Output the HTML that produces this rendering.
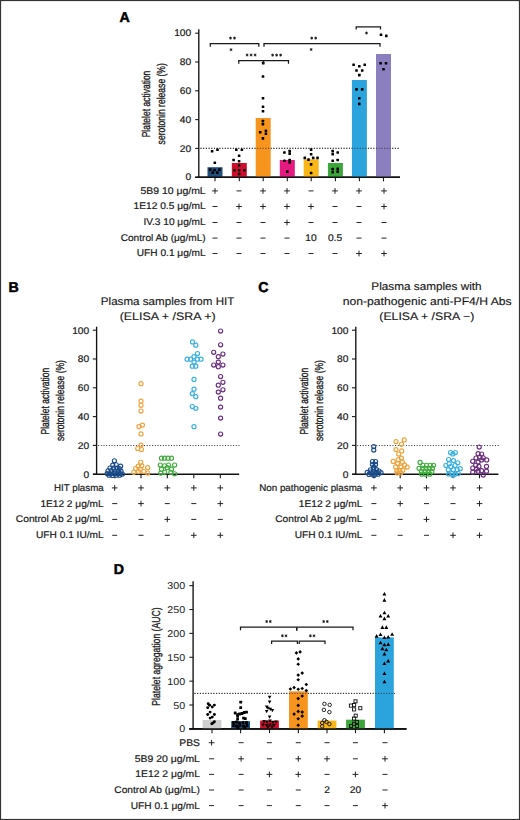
<!DOCTYPE html>
<html><head><meta charset="utf-8"><style>
html,body{margin:0;padding:0;background:#fff;}
svg{display:block;font-family:"Liberation Sans", sans-serif;text-rendering:geometricPrecision;}
</style></head><body>
<svg width="520" height="820" viewBox="0 0 520 820">
<rect x="0" y="0" width="520" height="820" fill="#fff"/>
<text x="119.6" y="21.6" font-size="14.2" text-anchor="start" font-weight="bold" fill="#000" stroke="#000" stroke-width="0.5">A</text>
<line x1="198.8" y1="29.3" x2="198.8" y2="177.8" stroke="#111" stroke-width="1.35" />
<line x1="198.2" y1="177.2" x2="400" y2="177.2" stroke="#1a1a1a" stroke-width="1.3" />
<line x1="195.2" y1="177.2" x2="198.8" y2="177.2" stroke="#1a1a1a" stroke-width="1.1" />
<text x="191.2" y="180.35" font-size="9.7" text-anchor="end" font-weight="normal" fill="#1a1a1a" textLength="5.66" lengthAdjust="spacingAndGlyphs" stroke="#1a1a1a" stroke-width="0.2">0</text>
<line x1="195.2" y1="148.39999999999998" x2="198.8" y2="148.39999999999998" stroke="#1a1a1a" stroke-width="1.1" />
<text x="191.2" y="151.54999999999998" font-size="9.7" text-anchor="end" font-weight="normal" fill="#1a1a1a" textLength="11.33" lengthAdjust="spacingAndGlyphs" stroke="#1a1a1a" stroke-width="0.2">20</text>
<line x1="195.2" y1="119.6" x2="198.8" y2="119.6" stroke="#1a1a1a" stroke-width="1.1" />
<text x="191.2" y="122.75" font-size="9.7" text-anchor="end" font-weight="normal" fill="#1a1a1a" textLength="11.33" lengthAdjust="spacingAndGlyphs" stroke="#1a1a1a" stroke-width="0.2">40</text>
<line x1="195.2" y1="90.79999999999998" x2="198.8" y2="90.79999999999998" stroke="#1a1a1a" stroke-width="1.1" />
<text x="191.2" y="93.94999999999999" font-size="9.7" text-anchor="end" font-weight="normal" fill="#1a1a1a" textLength="11.33" lengthAdjust="spacingAndGlyphs" stroke="#1a1a1a" stroke-width="0.2">60</text>
<line x1="195.2" y1="61.999999999999986" x2="198.8" y2="61.999999999999986" stroke="#1a1a1a" stroke-width="1.1" />
<text x="191.2" y="65.14999999999999" font-size="9.7" text-anchor="end" font-weight="normal" fill="#1a1a1a" textLength="11.33" lengthAdjust="spacingAndGlyphs" stroke="#1a1a1a" stroke-width="0.2">80</text>
<line x1="195.2" y1="33.19999999999999" x2="198.8" y2="33.19999999999999" stroke="#1a1a1a" stroke-width="1.1" />
<text x="191.2" y="36.34999999999999" font-size="9.7" text-anchor="end" font-weight="normal" fill="#1a1a1a" textLength="16.99" lengthAdjust="spacingAndGlyphs" stroke="#1a1a1a" stroke-width="0.2">100</text>
<line x1="200.5" y1="148.3" x2="399" y2="148.3" stroke="#333" stroke-width="1" stroke-dasharray="1 1.7"/>
<rect x="207.5" y="167.2" width="15" height="10.0" fill="#1d4f7c"/>
<line x1="215" y1="177.2" x2="215" y2="181.3" stroke="#1a1a1a" stroke-width="1.1" />
<rect x="231.8" y="163.0" width="15" height="14.199999999999989" fill="#cf0e2e"/>
<line x1="239.3" y1="177.2" x2="239.3" y2="181.3" stroke="#1a1a1a" stroke-width="1.1" />
<rect x="255.7" y="118.0" width="15" height="59.19999999999999" fill="#f7941d"/>
<line x1="263.2" y1="177.2" x2="263.2" y2="181.3" stroke="#1a1a1a" stroke-width="1.1" />
<rect x="279.8" y="160.0" width="15" height="17.19999999999999" fill="#e5197f"/>
<line x1="287.3" y1="177.2" x2="287.3" y2="181.3" stroke="#1a1a1a" stroke-width="1.1" />
<rect x="303.7" y="159.3" width="15" height="17.899999999999977" fill="#f8b617"/>
<line x1="311.2" y1="177.2" x2="311.2" y2="181.3" stroke="#1a1a1a" stroke-width="1.1" />
<rect x="327.9" y="163.0" width="15" height="14.199999999999989" fill="#3ba639"/>
<line x1="335.4" y1="177.2" x2="335.4" y2="181.3" stroke="#1a1a1a" stroke-width="1.1" />
<rect x="351.9" y="80.0" width="15" height="97.19999999999999" fill="#2ba4dd"/>
<line x1="359.4" y1="177.2" x2="359.4" y2="181.3" stroke="#1a1a1a" stroke-width="1.1" />
<rect x="376.0" y="54.0" width="15" height="123.19999999999999" fill="#8b7fc0"/>
<line x1="383.5" y1="177.2" x2="383.5" y2="181.3" stroke="#1a1a1a" stroke-width="1.1" />
<line x1="200.5" y1="148.3" x2="399" y2="148.3" stroke="#333" stroke-width="1" stroke-dasharray="1 1.7"/>
<line x1="195.2" y1="177.3" x2="400" y2="177.3" stroke="#111" stroke-width="1.5" />
<rect x="210.80" y="150.00" width="2.6" height="2.6" rx="0.5" fill="#000"/>
<rect x="216.20" y="148.50" width="2.6" height="2.6" rx="0.5" fill="#000"/>
<rect x="213.50" y="161.50" width="2.6" height="2.6" rx="0.5" fill="#000"/>
<rect x="208.90" y="168.30" width="2.6" height="2.6" rx="0.5" fill="#000"/>
<rect x="213.30" y="168.70" width="2.6" height="2.6" rx="0.5" fill="#000"/>
<rect x="218.20" y="168.30" width="2.6" height="2.6" rx="0.5" fill="#000"/>
<rect x="211.50" y="171.30" width="2.6" height="2.6" rx="0.5" fill="#000"/>
<rect x="216.00" y="171.30" width="2.6" height="2.6" rx="0.5" fill="#000"/>
<rect x="235.00" y="148.50" width="2.6" height="2.6" rx="0.5" fill="#000"/>
<rect x="240.60" y="148.50" width="2.6" height="2.6" rx="0.5" fill="#000"/>
<rect x="237.80" y="154.40" width="2.6" height="2.6" rx="0.5" fill="#000"/>
<rect x="232.30" y="158.70" width="2.6" height="2.6" rx="0.5" fill="#000"/>
<rect x="237.80" y="159.90" width="2.6" height="2.6" rx="0.5" fill="#000"/>
<rect x="237.80" y="164.20" width="2.6" height="2.6" rx="0.5" fill="#000"/>
<rect x="233.10" y="169.00" width="2.6" height="2.6" rx="0.5" fill="#000"/>
<rect x="237.80" y="169.00" width="2.6" height="2.6" rx="0.5" fill="#000"/>
<rect x="243.00" y="169.00" width="2.6" height="2.6" rx="0.5" fill="#000"/>
<rect x="237.80" y="172.70" width="2.6" height="2.6" rx="0.5" fill="#000"/>
<rect x="261.90" y="61.80" width="2.6" height="2.6" rx="0.5" fill="#000"/>
<rect x="261.70" y="75.20" width="2.6" height="2.6" rx="0.5" fill="#000"/>
<rect x="261.70" y="96.90" width="2.6" height="2.6" rx="0.5" fill="#000"/>
<rect x="261.70" y="105.40" width="2.6" height="2.6" rx="0.5" fill="#000"/>
<rect x="261.70" y="109.90" width="2.6" height="2.6" rx="0.5" fill="#000"/>
<rect x="261.60" y="119.70" width="2.6" height="2.6" rx="0.5" fill="#000"/>
<rect x="261.60" y="122.80" width="2.6" height="2.6" rx="0.5" fill="#000"/>
<rect x="258.90" y="131.00" width="2.6" height="2.6" rx="0.5" fill="#000"/>
<rect x="264.60" y="129.60" width="2.6" height="2.6" rx="0.5" fill="#000"/>
<rect x="264.60" y="132.40" width="2.6" height="2.6" rx="0.5" fill="#000"/>
<rect x="261.60" y="137.10" width="2.6" height="2.6" rx="0.5" fill="#000"/>
<rect x="283.10" y="151.20" width="2.6" height="2.6" rx="0.5" fill="#000"/>
<rect x="288.40" y="149.80" width="2.6" height="2.6" rx="0.5" fill="#000"/>
<rect x="288.40" y="152.30" width="2.6" height="2.6" rx="0.5" fill="#000"/>
<rect x="283.10" y="159.50" width="2.6" height="2.6" rx="0.5" fill="#000"/>
<rect x="288.40" y="158.70" width="2.6" height="2.6" rx="0.5" fill="#000"/>
<rect x="288.40" y="161.10" width="2.6" height="2.6" rx="0.5" fill="#000"/>
<rect x="286.00" y="170.30" width="2.6" height="2.6" rx="0.5" fill="#000"/>
<rect x="309.80" y="148.30" width="2.6" height="2.6" rx="0.5" fill="#000"/>
<rect x="309.80" y="153.00" width="2.6" height="2.6" rx="0.5" fill="#000"/>
<rect x="303.50" y="156.60" width="2.6" height="2.6" rx="0.5" fill="#000"/>
<rect x="307.20" y="158.30" width="2.6" height="2.6" rx="0.5" fill="#000"/>
<rect x="311.90" y="156.60" width="2.6" height="2.6" rx="0.5" fill="#000"/>
<rect x="316.20" y="156.60" width="2.6" height="2.6" rx="0.5" fill="#000"/>
<rect x="309.80" y="163.10" width="2.6" height="2.6" rx="0.5" fill="#000"/>
<rect x="309.80" y="171.70" width="2.6" height="2.6" rx="0.5" fill="#000"/>
<rect x="331.40" y="149.80" width="2.6" height="2.6" rx="0.5" fill="#000"/>
<rect x="331.40" y="153.00" width="2.6" height="2.6" rx="0.5" fill="#000"/>
<rect x="336.40" y="151.20" width="2.6" height="2.6" rx="0.5" fill="#000"/>
<rect x="331.40" y="159.50" width="2.6" height="2.6" rx="0.5" fill="#000"/>
<rect x="336.40" y="158.70" width="2.6" height="2.6" rx="0.5" fill="#000"/>
<rect x="331.40" y="167.80" width="2.6" height="2.6" rx="0.5" fill="#000"/>
<rect x="336.40" y="167.40" width="2.6" height="2.6" rx="0.5" fill="#000"/>
<rect x="331.40" y="171.00" width="2.6" height="2.6" rx="0.5" fill="#000"/>
<rect x="336.40" y="170.30" width="2.6" height="2.6" rx="0.5" fill="#000"/>
<rect x="352.30" y="63.50" width="2.6" height="2.6" rx="0.5" fill="#000"/>
<rect x="358.00" y="64.90" width="2.6" height="2.6" rx="0.5" fill="#000"/>
<rect x="363.40" y="63.50" width="2.6" height="2.6" rx="0.5" fill="#000"/>
<rect x="355.20" y="69.20" width="2.6" height="2.6" rx="0.5" fill="#000"/>
<rect x="360.90" y="69.20" width="2.6" height="2.6" rx="0.5" fill="#000"/>
<rect x="358.00" y="73.80" width="2.6" height="2.6" rx="0.5" fill="#000"/>
<rect x="355.20" y="88.10" width="2.6" height="2.6" rx="0.5" fill="#000"/>
<rect x="360.90" y="88.10" width="2.6" height="2.6" rx="0.5" fill="#000"/>
<rect x="358.00" y="97.00" width="2.6" height="2.6" rx="0.5" fill="#000"/>
<rect x="358.00" y="102.60" width="2.6" height="2.6" rx="0.5" fill="#000"/>
<rect x="379.70" y="33.50" width="2.6" height="2.6" rx="0.5" fill="#000"/>
<rect x="385.00" y="34.60" width="2.6" height="2.6" rx="0.5" fill="#000"/>
<rect x="379.30" y="62.00" width="2.6" height="2.6" rx="0.5" fill="#000"/>
<rect x="384.70" y="62.00" width="2.6" height="2.6" rx="0.5" fill="#000"/>
<rect x="382.20" y="68.00" width="2.6" height="2.6" rx="0.5" fill="#000"/>
<polyline points="210.3,46.800000000000004 210.3,43.6 258.8,43.6 258.8,46.800000000000004" fill="none" stroke="#1a1a1a" stroke-width="1.25"/>
<polyline points="264,46.800000000000004 264,43.6 380,43.6 380,46.800000000000004" fill="none" stroke="#1a1a1a" stroke-width="1.25"/>
<polyline points="238.8,63.800000000000004 238.8,60.6 288.5,60.6 288.5,63.800000000000004" fill="none" stroke="#1a1a1a" stroke-width="1.25"/>
<line x1="263.5" y1="60.6" x2="263.5" y2="63.8" stroke="#1a1a1a" stroke-width="1.1" />
<polyline points="356.2,29.6 356.2,26.8 380.5,26.8 380.5,29.6" fill="none" stroke="#1a1a1a" stroke-width="1.25"/>
<path d="M230.50,36.65L230.50,39.55M229.24,37.38L231.76,38.83M231.76,37.38L229.24,38.83" stroke="#111" stroke-width="0.85" fill="none"/>
<path d="M234.50,36.65L234.50,39.55M233.24,37.38L235.76,38.83M235.76,37.38L233.24,38.83" stroke="#111" stroke-width="0.85" fill="none"/>
<path d="M231.00,48.25L231.00,51.15M229.74,48.98L232.26,50.43M232.26,48.98L229.74,50.43" stroke="#111" stroke-width="0.85" fill="none"/>
<path d="M311.70,36.65L311.70,39.55M310.44,37.38L312.96,38.83M312.96,37.38L310.44,38.83" stroke="#111" stroke-width="0.85" fill="none"/>
<path d="M315.70,36.65L315.70,39.55M314.44,37.38L316.96,38.83M316.96,37.38L314.44,38.83" stroke="#111" stroke-width="0.85" fill="none"/>
<path d="M311.10,48.05L311.10,50.95M309.84,48.77L312.36,50.23M312.36,48.77L309.84,50.23" stroke="#111" stroke-width="0.85" fill="none"/>
<path d="M247.10,53.55L247.10,56.45M245.84,54.27L248.36,55.73M248.36,54.27L245.84,55.73" stroke="#111" stroke-width="0.85" fill="none"/>
<path d="M251.10,53.55L251.10,56.45M249.84,54.27L252.36,55.73M252.36,54.27L249.84,55.73" stroke="#111" stroke-width="0.85" fill="none"/>
<path d="M255.10,53.55L255.10,56.45M253.84,54.27L256.36,55.73M256.36,54.27L253.84,55.73" stroke="#111" stroke-width="0.85" fill="none"/>
<path d="M272.60,53.65L272.60,56.55M271.34,54.38L273.86,55.83M273.86,54.38L271.34,55.83" stroke="#111" stroke-width="0.85" fill="none"/>
<path d="M276.60,53.65L276.60,56.55M275.34,54.38L277.86,55.83M277.86,54.38L275.34,55.83" stroke="#111" stroke-width="0.85" fill="none"/>
<path d="M280.60,53.65L280.60,56.55M279.34,54.38L281.86,55.83M281.86,54.38L279.34,55.83" stroke="#111" stroke-width="0.85" fill="none"/>
<path d="M366.50,31.55L366.50,34.45M365.24,32.27L367.76,33.73M367.76,32.27L365.24,33.73" stroke="#111" stroke-width="0.85" fill="none"/>
<text transform="translate(150.2,104.0) rotate(-90)" x="0" y="0" font-size="11.5" text-anchor="middle" fill="#1a1a1a" stroke="#1a1a1a" stroke-width="0.3" textLength="66.7" lengthAdjust="spacingAndGlyphs">Platelet activation</text>
<text transform="translate(164.8,103.8) rotate(-90)" x="0" y="0" font-size="11.5" text-anchor="middle" fill="#1a1a1a" stroke="#1a1a1a" stroke-width="0.3" textLength="81.2" lengthAdjust="spacingAndGlyphs">serotonin release (%)</text>
<text x="205.7" y="193.8" font-size="9.7" text-anchor="end" font-weight="normal" fill="#1a1a1a" textLength="65.3" lengthAdjust="spacingAndGlyphs" stroke="#1a1a1a" stroke-width="0.2">5B9 10 μg/mL</text>
<text x="205.7" y="209.4" font-size="9.7" text-anchor="end" font-weight="normal" fill="#1a1a1a" textLength="72.2" lengthAdjust="spacingAndGlyphs" stroke="#1a1a1a" stroke-width="0.2">1E12 0.5 μg/mL</text>
<text x="205.7" y="225.4" font-size="9.7" text-anchor="end" font-weight="normal" fill="#1a1a1a" textLength="62.3" lengthAdjust="spacingAndGlyphs" stroke="#1a1a1a" stroke-width="0.2">IV.3 10 μg/mL</text>
<text x="205.7" y="241.0" font-size="9.7" text-anchor="end" font-weight="normal" fill="#1a1a1a" textLength="85" lengthAdjust="spacingAndGlyphs" stroke="#1a1a1a" stroke-width="0.2">Control Ab (μg/mL)</text>
<text x="205.7" y="256.4" font-size="9.7" text-anchor="end" font-weight="normal" fill="#1a1a1a" textLength="68.9" lengthAdjust="spacingAndGlyphs" stroke="#1a1a1a" stroke-width="0.2">UFH 0.1 μg/mL</text>
<line x1="212.15" y1="190.9" x2="217.85" y2="190.9" stroke="#1a1a1a" stroke-width="0.95" />
<line x1="215" y1="188.05" x2="215" y2="193.75" stroke="#1a1a1a" stroke-width="0.95" />
<line x1="236.5" y1="190.9" x2="241.5" y2="190.9" stroke="#1a1a1a" stroke-width="0.95" />
<line x1="260.15" y1="190.9" x2="265.85" y2="190.9" stroke="#1a1a1a" stroke-width="0.95" />
<line x1="263" y1="188.05" x2="263" y2="193.75" stroke="#1a1a1a" stroke-width="0.95" />
<line x1="284.15" y1="190.9" x2="289.85" y2="190.9" stroke="#1a1a1a" stroke-width="0.95" />
<line x1="287" y1="188.05" x2="287" y2="193.75" stroke="#1a1a1a" stroke-width="0.95" />
<line x1="308.5" y1="190.9" x2="313.5" y2="190.9" stroke="#1a1a1a" stroke-width="0.95" />
<line x1="332.15" y1="190.9" x2="337.85" y2="190.9" stroke="#1a1a1a" stroke-width="0.95" />
<line x1="335" y1="188.05" x2="335" y2="193.75" stroke="#1a1a1a" stroke-width="0.95" />
<line x1="356.15" y1="190.9" x2="361.85" y2="190.9" stroke="#1a1a1a" stroke-width="0.95" />
<line x1="359" y1="188.05" x2="359" y2="193.75" stroke="#1a1a1a" stroke-width="0.95" />
<line x1="381.15" y1="190.9" x2="386.85" y2="190.9" stroke="#1a1a1a" stroke-width="0.95" />
<line x1="384" y1="188.05" x2="384" y2="193.75" stroke="#1a1a1a" stroke-width="0.95" />
<line x1="212.5" y1="206.5" x2="217.5" y2="206.5" stroke="#1a1a1a" stroke-width="0.95" />
<line x1="236.15" y1="206.5" x2="241.85" y2="206.5" stroke="#1a1a1a" stroke-width="0.95" />
<line x1="239" y1="203.65" x2="239" y2="209.35" stroke="#1a1a1a" stroke-width="0.95" />
<line x1="260.15" y1="206.5" x2="265.85" y2="206.5" stroke="#1a1a1a" stroke-width="0.95" />
<line x1="263" y1="203.65" x2="263" y2="209.35" stroke="#1a1a1a" stroke-width="0.95" />
<line x1="284.15" y1="206.5" x2="289.85" y2="206.5" stroke="#1a1a1a" stroke-width="0.95" />
<line x1="287" y1="203.65" x2="287" y2="209.35" stroke="#1a1a1a" stroke-width="0.95" />
<line x1="308.15" y1="206.5" x2="313.85" y2="206.5" stroke="#1a1a1a" stroke-width="0.95" />
<line x1="311" y1="203.65" x2="311" y2="209.35" stroke="#1a1a1a" stroke-width="0.95" />
<line x1="332.5" y1="206.5" x2="337.5" y2="206.5" stroke="#1a1a1a" stroke-width="0.95" />
<line x1="356.5" y1="206.5" x2="361.5" y2="206.5" stroke="#1a1a1a" stroke-width="0.95" />
<line x1="381.15" y1="206.5" x2="386.85" y2="206.5" stroke="#1a1a1a" stroke-width="0.95" />
<line x1="384" y1="203.65" x2="384" y2="209.35" stroke="#1a1a1a" stroke-width="0.95" />
<line x1="212.5" y1="222.5" x2="217.5" y2="222.5" stroke="#1a1a1a" stroke-width="0.95" />
<line x1="236.5" y1="222.5" x2="241.5" y2="222.5" stroke="#1a1a1a" stroke-width="0.95" />
<line x1="260.5" y1="222.5" x2="265.5" y2="222.5" stroke="#1a1a1a" stroke-width="0.95" />
<line x1="284.15" y1="222.5" x2="289.85" y2="222.5" stroke="#1a1a1a" stroke-width="0.95" />
<line x1="287" y1="219.65" x2="287" y2="225.35" stroke="#1a1a1a" stroke-width="0.95" />
<line x1="308.5" y1="222.5" x2="313.5" y2="222.5" stroke="#1a1a1a" stroke-width="0.95" />
<line x1="332.5" y1="222.5" x2="337.5" y2="222.5" stroke="#1a1a1a" stroke-width="0.95" />
<line x1="356.5" y1="222.5" x2="361.5" y2="222.5" stroke="#1a1a1a" stroke-width="0.95" />
<line x1="381.5" y1="222.5" x2="386.5" y2="222.5" stroke="#1a1a1a" stroke-width="0.95" />
<line x1="212.5" y1="238.1" x2="217.5" y2="238.1" stroke="#1a1a1a" stroke-width="0.95" />
<line x1="236.5" y1="238.1" x2="241.5" y2="238.1" stroke="#1a1a1a" stroke-width="0.95" />
<line x1="260.5" y1="238.1" x2="265.5" y2="238.1" stroke="#1a1a1a" stroke-width="0.95" />
<line x1="284.5" y1="238.1" x2="289.5" y2="238.1" stroke="#1a1a1a" stroke-width="0.95" />
<text x="311" y="241.0" font-size="9.7" text-anchor="middle" font-weight="normal" fill="#1a1a1a" textLength="11.33" lengthAdjust="spacingAndGlyphs" stroke="#1a1a1a" stroke-width="0.2">10</text>
<text x="335" y="241.0" font-size="9.7" text-anchor="middle" font-weight="normal" fill="#1a1a1a" textLength="14.16" lengthAdjust="spacingAndGlyphs" stroke="#1a1a1a" stroke-width="0.2">0.5</text>
<line x1="356.5" y1="238.1" x2="361.5" y2="238.1" stroke="#1a1a1a" stroke-width="0.95" />
<line x1="381.5" y1="238.1" x2="386.5" y2="238.1" stroke="#1a1a1a" stroke-width="0.95" />
<line x1="212.5" y1="253.49999999999997" x2="217.5" y2="253.49999999999997" stroke="#1a1a1a" stroke-width="0.95" />
<line x1="236.5" y1="253.49999999999997" x2="241.5" y2="253.49999999999997" stroke="#1a1a1a" stroke-width="0.95" />
<line x1="260.5" y1="253.49999999999997" x2="265.5" y2="253.49999999999997" stroke="#1a1a1a" stroke-width="0.95" />
<line x1="284.5" y1="253.49999999999997" x2="289.5" y2="253.49999999999997" stroke="#1a1a1a" stroke-width="0.95" />
<line x1="308.5" y1="253.49999999999997" x2="313.5" y2="253.49999999999997" stroke="#1a1a1a" stroke-width="0.95" />
<line x1="332.5" y1="253.49999999999997" x2="337.5" y2="253.49999999999997" stroke="#1a1a1a" stroke-width="0.95" />
<line x1="356.15" y1="253.49999999999997" x2="361.85" y2="253.49999999999997" stroke="#1a1a1a" stroke-width="0.95" />
<line x1="359" y1="250.64999999999998" x2="359" y2="256.34999999999997" stroke="#1a1a1a" stroke-width="0.95" />
<line x1="381.15" y1="253.49999999999997" x2="386.85" y2="253.49999999999997" stroke="#1a1a1a" stroke-width="0.95" />
<line x1="384" y1="250.64999999999998" x2="384" y2="256.34999999999997" stroke="#1a1a1a" stroke-width="0.95" />
<line x1="96.6" y1="326.7" x2="96.6" y2="474.8" stroke="#111" stroke-width="1.35" />
<line x1="93.0" y1="474.3" x2="239.2" y2="474.3" stroke="#111" stroke-width="1.5" />
<line x1="92.8" y1="474.2" x2="96.6" y2="474.2" stroke="#1a1a1a" stroke-width="1.1" />
<text x="89.19999999999999" y="477.5" font-size="9.7" text-anchor="end" font-weight="normal" fill="#1a1a1a" textLength="5.66" lengthAdjust="spacingAndGlyphs" stroke="#1a1a1a" stroke-width="0.2">0</text>
<line x1="92.8" y1="445.4" x2="96.6" y2="445.4" stroke="#1a1a1a" stroke-width="1.1" />
<text x="89.19999999999999" y="448.7" font-size="9.7" text-anchor="end" font-weight="normal" fill="#1a1a1a" textLength="11.33" lengthAdjust="spacingAndGlyphs" stroke="#1a1a1a" stroke-width="0.2">20</text>
<line x1="92.8" y1="416.59999999999997" x2="96.6" y2="416.59999999999997" stroke="#1a1a1a" stroke-width="1.1" />
<text x="89.19999999999999" y="419.9" font-size="9.7" text-anchor="end" font-weight="normal" fill="#1a1a1a" textLength="11.33" lengthAdjust="spacingAndGlyphs" stroke="#1a1a1a" stroke-width="0.2">40</text>
<line x1="92.8" y1="387.79999999999995" x2="96.6" y2="387.79999999999995" stroke="#1a1a1a" stroke-width="1.1" />
<text x="89.19999999999999" y="391.09999999999997" font-size="9.7" text-anchor="end" font-weight="normal" fill="#1a1a1a" textLength="11.33" lengthAdjust="spacingAndGlyphs" stroke="#1a1a1a" stroke-width="0.2">60</text>
<line x1="92.8" y1="359.0" x2="96.6" y2="359.0" stroke="#1a1a1a" stroke-width="1.1" />
<text x="89.19999999999999" y="362.3" font-size="9.7" text-anchor="end" font-weight="normal" fill="#1a1a1a" textLength="11.33" lengthAdjust="spacingAndGlyphs" stroke="#1a1a1a" stroke-width="0.2">80</text>
<line x1="92.8" y1="330.2" x2="96.6" y2="330.2" stroke="#1a1a1a" stroke-width="1.1" />
<text x="89.19999999999999" y="333.5" font-size="9.7" text-anchor="end" font-weight="normal" fill="#1a1a1a" textLength="16.99" lengthAdjust="spacingAndGlyphs" stroke="#1a1a1a" stroke-width="0.2">100</text>
<line x1="98.1" y1="445.5" x2="239.6" y2="445.5" stroke="#333" stroke-width="1" stroke-dasharray="1 1.7"/>
<line x1="114.7" y1="474" x2="114.7" y2="478.3" stroke="#1a1a1a" stroke-width="1.1" />
<line x1="141.0" y1="474" x2="141.0" y2="478.3" stroke="#1a1a1a" stroke-width="1.1" />
<line x1="167.3" y1="474" x2="167.3" y2="478.3" stroke="#1a1a1a" stroke-width="1.1" />
<line x1="193.8" y1="474" x2="193.8" y2="478.3" stroke="#1a1a1a" stroke-width="1.1" />
<line x1="220.3" y1="474" x2="220.3" y2="478.3" stroke="#1a1a1a" stroke-width="1.1" />
<text transform="translate(48.9,401.2) rotate(-90)" x="0" y="0" font-size="11.5" text-anchor="middle" fill="#1a1a1a" stroke="#1a1a1a" stroke-width="0.3" textLength="66.7" lengthAdjust="spacingAndGlyphs">Platelet activation</text>
<text transform="translate(63.8,400.6) rotate(-90)" x="0" y="0" font-size="11.5" text-anchor="middle" fill="#1a1a1a" stroke="#1a1a1a" stroke-width="0.3" textLength="81.0" lengthAdjust="spacingAndGlyphs">serotonin release (%)</text>
<text x="167.6" y="304.6" font-size="11" text-anchor="middle" font-weight="normal" fill="#1a1a1a" textLength="133.5" lengthAdjust="spacingAndGlyphs" stroke="#1a1a1a" stroke-width="0.15">Plasma samples from HIT</text>
<text x="167.7" y="319.5" font-size="11" text-anchor="middle" font-weight="normal" fill="#1a1a1a" textLength="96.0" lengthAdjust="spacingAndGlyphs" stroke="#1a1a1a" stroke-width="0.15">(ELISA + /SRA +)</text>
<line x1="355.79999999999995" y1="326.7" x2="355.79999999999995" y2="474.8" stroke="#111" stroke-width="1.35" />
<line x1="352.19999999999993" y1="474.3" x2="498.4" y2="474.3" stroke="#111" stroke-width="1.5" />
<line x1="351.99999999999994" y1="474.2" x2="355.79999999999995" y2="474.2" stroke="#1a1a1a" stroke-width="1.1" />
<text x="348.4" y="477.5" font-size="9.7" text-anchor="end" font-weight="normal" fill="#1a1a1a" textLength="5.66" lengthAdjust="spacingAndGlyphs" stroke="#1a1a1a" stroke-width="0.2">0</text>
<line x1="351.99999999999994" y1="445.4" x2="355.79999999999995" y2="445.4" stroke="#1a1a1a" stroke-width="1.1" />
<text x="348.4" y="448.7" font-size="9.7" text-anchor="end" font-weight="normal" fill="#1a1a1a" textLength="11.33" lengthAdjust="spacingAndGlyphs" stroke="#1a1a1a" stroke-width="0.2">20</text>
<line x1="351.99999999999994" y1="416.59999999999997" x2="355.79999999999995" y2="416.59999999999997" stroke="#1a1a1a" stroke-width="1.1" />
<text x="348.4" y="419.9" font-size="9.7" text-anchor="end" font-weight="normal" fill="#1a1a1a" textLength="11.33" lengthAdjust="spacingAndGlyphs" stroke="#1a1a1a" stroke-width="0.2">40</text>
<line x1="351.99999999999994" y1="387.79999999999995" x2="355.79999999999995" y2="387.79999999999995" stroke="#1a1a1a" stroke-width="1.1" />
<text x="348.4" y="391.09999999999997" font-size="9.7" text-anchor="end" font-weight="normal" fill="#1a1a1a" textLength="11.33" lengthAdjust="spacingAndGlyphs" stroke="#1a1a1a" stroke-width="0.2">60</text>
<line x1="351.99999999999994" y1="359.0" x2="355.79999999999995" y2="359.0" stroke="#1a1a1a" stroke-width="1.1" />
<text x="348.4" y="362.3" font-size="9.7" text-anchor="end" font-weight="normal" fill="#1a1a1a" textLength="11.33" lengthAdjust="spacingAndGlyphs" stroke="#1a1a1a" stroke-width="0.2">80</text>
<line x1="351.99999999999994" y1="330.2" x2="355.79999999999995" y2="330.2" stroke="#1a1a1a" stroke-width="1.1" />
<text x="348.4" y="333.5" font-size="9.7" text-anchor="end" font-weight="normal" fill="#1a1a1a" textLength="16.99" lengthAdjust="spacingAndGlyphs" stroke="#1a1a1a" stroke-width="0.2">100</text>
<line x1="357.29999999999995" y1="445.5" x2="498.79999999999995" y2="445.5" stroke="#333" stroke-width="1" stroke-dasharray="1 1.7"/>
<line x1="373.9" y1="474" x2="373.9" y2="478.3" stroke="#1a1a1a" stroke-width="1.1" />
<line x1="400.2" y1="474" x2="400.2" y2="478.3" stroke="#1a1a1a" stroke-width="1.1" />
<line x1="426.5" y1="474" x2="426.5" y2="478.3" stroke="#1a1a1a" stroke-width="1.1" />
<line x1="453.0" y1="474" x2="453.0" y2="478.3" stroke="#1a1a1a" stroke-width="1.1" />
<line x1="479.5" y1="474" x2="479.5" y2="478.3" stroke="#1a1a1a" stroke-width="1.1" />
<text transform="translate(308.09999999999997,401.2) rotate(-90)" x="0" y="0" font-size="11.5" text-anchor="middle" fill="#1a1a1a" stroke="#1a1a1a" stroke-width="0.3" textLength="66.7" lengthAdjust="spacingAndGlyphs">Platelet activation</text>
<text transform="translate(323.0,400.6) rotate(-90)" x="0" y="0" font-size="11.5" text-anchor="middle" fill="#1a1a1a" stroke="#1a1a1a" stroke-width="0.3" textLength="81.0" lengthAdjust="spacingAndGlyphs">serotonin release (%)</text>
<text x="426.5" y="289.5" font-size="11" text-anchor="middle" font-weight="normal" fill="#1a1a1a" textLength="110.3" lengthAdjust="spacingAndGlyphs" stroke="#1a1a1a" stroke-width="0.15">Plasma samples with</text>
<text x="427.2" y="304.6" font-size="11" text-anchor="middle" font-weight="normal" fill="#1a1a1a" textLength="168.8" lengthAdjust="spacingAndGlyphs" stroke="#1a1a1a" stroke-width="0.15">non-pathogenic anti-PF4/H Abs</text>
<text x="426.8" y="319.7" font-size="11" text-anchor="middle" font-weight="normal" fill="#1a1a1a" textLength="95.0" lengthAdjust="spacingAndGlyphs" stroke="#1a1a1a" stroke-width="0.15">(ELISA + /SRA −)</text>
<text x="8.6" y="292.2" font-size="14.2" text-anchor="start" font-weight="bold" fill="#000" stroke="#000" stroke-width="0.5">B</text>
<text x="258.2" y="292.3" font-size="14.2" text-anchor="start" font-weight="bold" fill="#000" stroke="#000" stroke-width="0.5">C</text>
<circle cx="114.4" cy="460.8" r="2.05" fill="none" stroke="#1b4c8a" stroke-width="1.15"/>
<circle cx="112.8" cy="465.2" r="2.05" fill="none" stroke="#1b4c8a" stroke-width="1.15"/>
<circle cx="116.2" cy="464.8" r="2.05" fill="none" stroke="#1b4c8a" stroke-width="1.15"/>
<circle cx="120.6" cy="466.2" r="2.05" fill="none" stroke="#1b4c8a" stroke-width="1.15"/>
<circle cx="110" cy="468" r="2.05" fill="none" stroke="#1b4c8a" stroke-width="1.15"/>
<circle cx="113.4" cy="468.2" r="2.05" fill="none" stroke="#1b4c8a" stroke-width="1.15"/>
<circle cx="116.8" cy="468" r="2.05" fill="none" stroke="#1b4c8a" stroke-width="1.15"/>
<circle cx="119.4" cy="468.6" r="2.05" fill="none" stroke="#1b4c8a" stroke-width="1.15"/>
<circle cx="108" cy="470.8" r="2.05" fill="none" stroke="#1b4c8a" stroke-width="1.15"/>
<circle cx="111.2" cy="470.6" r="2.05" fill="none" stroke="#1b4c8a" stroke-width="1.15"/>
<circle cx="114.6" cy="471" r="2.05" fill="none" stroke="#1b4c8a" stroke-width="1.15"/>
<circle cx="118" cy="470.8" r="2.05" fill="none" stroke="#1b4c8a" stroke-width="1.15"/>
<circle cx="121" cy="471.2" r="2.05" fill="none" stroke="#1b4c8a" stroke-width="1.15"/>
<circle cx="107.2" cy="473.6" r="2.05" fill="none" stroke="#1b4c8a" stroke-width="1.15"/>
<circle cx="110.4" cy="473.8" r="2.05" fill="none" stroke="#1b4c8a" stroke-width="1.15"/>
<circle cx="113.6" cy="473.4" r="2.05" fill="none" stroke="#1b4c8a" stroke-width="1.15"/>
<circle cx="117" cy="473.6" r="2.05" fill="none" stroke="#1b4c8a" stroke-width="1.15"/>
<circle cx="120.2" cy="473.6" r="2.05" fill="none" stroke="#1b4c8a" stroke-width="1.15"/>
<circle cx="122.4" cy="474" r="2.05" fill="none" stroke="#1b4c8a" stroke-width="1.15"/>
<circle cx="109" cy="475.2" r="2.05" fill="none" stroke="#1b4c8a" stroke-width="1.15"/>
<circle cx="112.6" cy="475.4" r="2.05" fill="none" stroke="#1b4c8a" stroke-width="1.15"/>
<circle cx="116.4" cy="475.2" r="2.05" fill="none" stroke="#1b4c8a" stroke-width="1.15"/>
<circle cx="119.6" cy="475.2" r="2.05" fill="none" stroke="#1b4c8a" stroke-width="1.15"/>
<circle cx="141" cy="383.7" r="2.05" fill="none" stroke="#f0a23a" stroke-width="1.15"/>
<circle cx="141" cy="401.2" r="2.05" fill="none" stroke="#f0a23a" stroke-width="1.15"/>
<circle cx="141" cy="405.3" r="2.05" fill="none" stroke="#f0a23a" stroke-width="1.15"/>
<circle cx="141" cy="411" r="2.05" fill="none" stroke="#f0a23a" stroke-width="1.15"/>
<circle cx="139" cy="426.6" r="2.05" fill="none" stroke="#f0a23a" stroke-width="1.15"/>
<circle cx="142.4" cy="425.1" r="2.05" fill="none" stroke="#f0a23a" stroke-width="1.15"/>
<circle cx="141" cy="433.9" r="2.05" fill="none" stroke="#f0a23a" stroke-width="1.15"/>
<circle cx="141" cy="445.1" r="2.05" fill="none" stroke="#f0a23a" stroke-width="1.15"/>
<circle cx="137.7" cy="448.5" r="2.05" fill="none" stroke="#f0a23a" stroke-width="1.15"/>
<circle cx="141.5" cy="449.5" r="2.05" fill="none" stroke="#f0a23a" stroke-width="1.15"/>
<circle cx="140.8" cy="462.3" r="2.05" fill="none" stroke="#f0a23a" stroke-width="1.15"/>
<circle cx="138.2" cy="466.2" r="2.05" fill="none" stroke="#f0a23a" stroke-width="1.15"/>
<circle cx="141.8" cy="465.8" r="2.05" fill="none" stroke="#f0a23a" stroke-width="1.15"/>
<circle cx="135.7" cy="468.5" r="2.05" fill="none" stroke="#f0a23a" stroke-width="1.15"/>
<circle cx="140.3" cy="469.2" r="2.05" fill="none" stroke="#f0a23a" stroke-width="1.15"/>
<circle cx="147.7" cy="467.7" r="2.05" fill="none" stroke="#f0a23a" stroke-width="1.15"/>
<circle cx="133.8" cy="472.3" r="2.05" fill="none" stroke="#f0a23a" stroke-width="1.15"/>
<circle cx="138.5" cy="471.5" r="2.05" fill="none" stroke="#f0a23a" stroke-width="1.15"/>
<circle cx="143.8" cy="471.5" r="2.05" fill="none" stroke="#f0a23a" stroke-width="1.15"/>
<circle cx="147.7" cy="473" r="2.05" fill="none" stroke="#f0a23a" stroke-width="1.15"/>
<circle cx="161.5" cy="458.2" r="2.05" fill="none" stroke="#40ad3c" stroke-width="1.15"/>
<circle cx="164.6" cy="458.2" r="2.05" fill="none" stroke="#40ad3c" stroke-width="1.15"/>
<circle cx="168" cy="458.2" r="2.05" fill="none" stroke="#40ad3c" stroke-width="1.15"/>
<circle cx="171.5" cy="458.2" r="2.05" fill="none" stroke="#40ad3c" stroke-width="1.15"/>
<circle cx="160.3" cy="465" r="2.05" fill="none" stroke="#40ad3c" stroke-width="1.15"/>
<circle cx="164.6" cy="465.8" r="2.05" fill="none" stroke="#40ad3c" stroke-width="1.15"/>
<circle cx="168.5" cy="465" r="2.05" fill="none" stroke="#40ad3c" stroke-width="1.15"/>
<circle cx="174.6" cy="465" r="2.05" fill="none" stroke="#40ad3c" stroke-width="1.15"/>
<circle cx="161.5" cy="469.2" r="2.05" fill="none" stroke="#40ad3c" stroke-width="1.15"/>
<circle cx="167.2" cy="467.7" r="2.05" fill="none" stroke="#40ad3c" stroke-width="1.15"/>
<circle cx="171.5" cy="469.2" r="2.05" fill="none" stroke="#40ad3c" stroke-width="1.15"/>
<circle cx="160.8" cy="473" r="2.05" fill="none" stroke="#40ad3c" stroke-width="1.15"/>
<circle cx="164.6" cy="472.3" r="2.05" fill="none" stroke="#40ad3c" stroke-width="1.15"/>
<circle cx="170.8" cy="472.3" r="2.05" fill="none" stroke="#40ad3c" stroke-width="1.15"/>
<circle cx="174.6" cy="473.8" r="2.05" fill="none" stroke="#40ad3c" stroke-width="1.15"/>
<circle cx="192.5" cy="341.9" r="2.05" fill="none" stroke="#38b0e1" stroke-width="1.15"/>
<circle cx="195.8" cy="345.2" r="2.05" fill="none" stroke="#38b0e1" stroke-width="1.15"/>
<circle cx="197.5" cy="353.5" r="2.05" fill="none" stroke="#38b0e1" stroke-width="1.15"/>
<circle cx="187.1" cy="359.2" r="2.05" fill="none" stroke="#38b0e1" stroke-width="1.15"/>
<circle cx="190.6" cy="359.2" r="2.05" fill="none" stroke="#38b0e1" stroke-width="1.15"/>
<circle cx="194" cy="356.7" r="2.05" fill="none" stroke="#38b0e1" stroke-width="1.15"/>
<circle cx="197.5" cy="359.2" r="2.05" fill="none" stroke="#38b0e1" stroke-width="1.15"/>
<circle cx="201" cy="359.2" r="2.05" fill="none" stroke="#38b0e1" stroke-width="1.15"/>
<circle cx="194" cy="362.1" r="2.05" fill="none" stroke="#38b0e1" stroke-width="1.15"/>
<circle cx="192.3" cy="366.2" r="2.05" fill="none" stroke="#38b0e1" stroke-width="1.15"/>
<circle cx="195.8" cy="366.2" r="2.05" fill="none" stroke="#38b0e1" stroke-width="1.15"/>
<circle cx="194" cy="379.4" r="2.05" fill="none" stroke="#38b0e1" stroke-width="1.15"/>
<circle cx="194" cy="389.2" r="2.05" fill="none" stroke="#38b0e1" stroke-width="1.15"/>
<circle cx="192.3" cy="393.6" r="2.05" fill="none" stroke="#38b0e1" stroke-width="1.15"/>
<circle cx="195.8" cy="396.7" r="2.05" fill="none" stroke="#38b0e1" stroke-width="1.15"/>
<circle cx="192.3" cy="406.5" r="2.05" fill="none" stroke="#38b0e1" stroke-width="1.15"/>
<circle cx="195.8" cy="408.3" r="2.05" fill="none" stroke="#38b0e1" stroke-width="1.15"/>
<circle cx="194" cy="426.7" r="2.05" fill="none" stroke="#38b0e1" stroke-width="1.15"/>
<circle cx="220.6" cy="331" r="2.05" fill="none" stroke="#6b2d7f" stroke-width="1.15"/>
<circle cx="220.6" cy="344.8" r="2.05" fill="none" stroke="#6b2d7f" stroke-width="1.15"/>
<circle cx="213.7" cy="352.3" r="2.05" fill="none" stroke="#6b2d7f" stroke-width="1.15"/>
<circle cx="222.9" cy="354" r="2.05" fill="none" stroke="#6b2d7f" stroke-width="1.15"/>
<circle cx="218.3" cy="356.7" r="2.05" fill="none" stroke="#6b2d7f" stroke-width="1.15"/>
<circle cx="213.7" cy="365" r="2.05" fill="none" stroke="#6b2d7f" stroke-width="1.15"/>
<circle cx="218.3" cy="362.1" r="2.05" fill="none" stroke="#6b2d7f" stroke-width="1.15"/>
<circle cx="222.9" cy="365" r="2.05" fill="none" stroke="#6b2d7f" stroke-width="1.15"/>
<circle cx="218.3" cy="366.7" r="2.05" fill="none" stroke="#6b2d7f" stroke-width="1.15"/>
<circle cx="220.6" cy="376.5" r="2.05" fill="none" stroke="#6b2d7f" stroke-width="1.15"/>
<circle cx="222.9" cy="382.3" r="2.05" fill="none" stroke="#6b2d7f" stroke-width="1.15"/>
<circle cx="218.3" cy="385.2" r="2.05" fill="none" stroke="#6b2d7f" stroke-width="1.15"/>
<circle cx="222.9" cy="389.8" r="2.05" fill="none" stroke="#6b2d7f" stroke-width="1.15"/>
<circle cx="218.3" cy="392.1" r="2.05" fill="none" stroke="#6b2d7f" stroke-width="1.15"/>
<circle cx="220.6" cy="398.2" r="2.05" fill="none" stroke="#6b2d7f" stroke-width="1.15"/>
<circle cx="220.6" cy="407.1" r="2.05" fill="none" stroke="#6b2d7f" stroke-width="1.15"/>
<circle cx="220.6" cy="418.1" r="2.05" fill="none" stroke="#6b2d7f" stroke-width="1.15"/>
<circle cx="220.6" cy="434" r="2.05" fill="none" stroke="#6b2d7f" stroke-width="1.15"/>
<circle cx="373.75" cy="446.5" r="2.05" fill="none" stroke="#1b4c8a" stroke-width="1.15"/>
<circle cx="373.75" cy="450" r="2.05" fill="none" stroke="#1b4c8a" stroke-width="1.15"/>
<circle cx="372.5" cy="461.5" r="2.05" fill="none" stroke="#1b4c8a" stroke-width="1.15"/>
<circle cx="375.5" cy="461.5" r="2.05" fill="none" stroke="#1b4c8a" stroke-width="1.15"/>
<circle cx="372.5" cy="464.5" r="2.05" fill="none" stroke="#1b4c8a" stroke-width="1.15"/>
<circle cx="375.5" cy="464.5" r="2.05" fill="none" stroke="#1b4c8a" stroke-width="1.15"/>
<circle cx="373.8" cy="467.2" r="2.05" fill="none" stroke="#1b4c8a" stroke-width="1.15"/>
<circle cx="370.5" cy="469.8" r="2.05" fill="none" stroke="#1b4c8a" stroke-width="1.15"/>
<circle cx="373.5" cy="469.2" r="2.05" fill="none" stroke="#1b4c8a" stroke-width="1.15"/>
<circle cx="376.5" cy="469.6" r="2.05" fill="none" stroke="#1b4c8a" stroke-width="1.15"/>
<circle cx="379" cy="471" r="2.05" fill="none" stroke="#1b4c8a" stroke-width="1.15"/>
<circle cx="367.2" cy="472.4" r="2.05" fill="none" stroke="#1b4c8a" stroke-width="1.15"/>
<circle cx="370.2" cy="472" r="2.05" fill="none" stroke="#1b4c8a" stroke-width="1.15"/>
<circle cx="373.2" cy="472.2" r="2.05" fill="none" stroke="#1b4c8a" stroke-width="1.15"/>
<circle cx="376.2" cy="472.4" r="2.05" fill="none" stroke="#1b4c8a" stroke-width="1.15"/>
<circle cx="381" cy="472.6" r="2.05" fill="none" stroke="#1b4c8a" stroke-width="1.15"/>
<circle cx="369" cy="474.4" r="2.05" fill="none" stroke="#1b4c8a" stroke-width="1.15"/>
<circle cx="372" cy="474" r="2.05" fill="none" stroke="#1b4c8a" stroke-width="1.15"/>
<circle cx="375" cy="474.2" r="2.05" fill="none" stroke="#1b4c8a" stroke-width="1.15"/>
<circle cx="378.2" cy="474.2" r="2.05" fill="none" stroke="#1b4c8a" stroke-width="1.15"/>
<circle cx="374" cy="475.6" r="2.05" fill="none" stroke="#1b4c8a" stroke-width="1.15"/>
<circle cx="396" cy="441.6" r="2.05" fill="none" stroke="#f0a23a" stroke-width="1.15"/>
<circle cx="404.2" cy="439.9" r="2.05" fill="none" stroke="#f0a23a" stroke-width="1.15"/>
<circle cx="401.5" cy="444.3" r="2.05" fill="none" stroke="#f0a23a" stroke-width="1.15"/>
<circle cx="396" cy="449.6" r="2.05" fill="none" stroke="#f0a23a" stroke-width="1.15"/>
<circle cx="401.7" cy="450.9" r="2.05" fill="none" stroke="#f0a23a" stroke-width="1.15"/>
<circle cx="398.7" cy="454" r="2.05" fill="none" stroke="#f0a23a" stroke-width="1.15"/>
<circle cx="401.5" cy="458.1" r="2.05" fill="none" stroke="#f0a23a" stroke-width="1.15"/>
<circle cx="398.2" cy="459.7" r="2.05" fill="none" stroke="#f0a23a" stroke-width="1.15"/>
<circle cx="393.2" cy="461.4" r="2.05" fill="none" stroke="#f0a23a" stroke-width="1.15"/>
<circle cx="397.6" cy="463.6" r="2.05" fill="none" stroke="#f0a23a" stroke-width="1.15"/>
<circle cx="402.3" cy="462.2" r="2.05" fill="none" stroke="#f0a23a" stroke-width="1.15"/>
<circle cx="395.7" cy="466.9" r="2.05" fill="none" stroke="#f0a23a" stroke-width="1.15"/>
<circle cx="400.9" cy="467.1" r="2.05" fill="none" stroke="#f0a23a" stroke-width="1.15"/>
<circle cx="404.5" cy="464.9" r="2.05" fill="none" stroke="#f0a23a" stroke-width="1.15"/>
<circle cx="407.2" cy="467.1" r="2.05" fill="none" stroke="#f0a23a" stroke-width="1.15"/>
<circle cx="396.8" cy="470.7" r="2.05" fill="none" stroke="#f0a23a" stroke-width="1.15"/>
<circle cx="399.8" cy="470.2" r="2.05" fill="none" stroke="#f0a23a" stroke-width="1.15"/>
<circle cx="402.8" cy="470.2" r="2.05" fill="none" stroke="#f0a23a" stroke-width="1.15"/>
<circle cx="397.3" cy="472.9" r="2.05" fill="none" stroke="#f0a23a" stroke-width="1.15"/>
<circle cx="400.6" cy="472.9" r="2.05" fill="none" stroke="#f0a23a" stroke-width="1.15"/>
<circle cx="420.1" cy="462.4" r="2.05" fill="none" stroke="#40ad3c" stroke-width="1.15"/>
<circle cx="422.8" cy="465.3" r="2.05" fill="none" stroke="#40ad3c" stroke-width="1.15"/>
<circle cx="426.5" cy="465.3" r="2.05" fill="none" stroke="#40ad3c" stroke-width="1.15"/>
<circle cx="430.3" cy="465.3" r="2.05" fill="none" stroke="#40ad3c" stroke-width="1.15"/>
<circle cx="433.5" cy="465.3" r="2.05" fill="none" stroke="#40ad3c" stroke-width="1.15"/>
<circle cx="419" cy="468.3" r="2.05" fill="none" stroke="#40ad3c" stroke-width="1.15"/>
<circle cx="422.8" cy="468.3" r="2.05" fill="none" stroke="#40ad3c" stroke-width="1.15"/>
<circle cx="426" cy="468.3" r="2.05" fill="none" stroke="#40ad3c" stroke-width="1.15"/>
<circle cx="429.2" cy="468.3" r="2.05" fill="none" stroke="#40ad3c" stroke-width="1.15"/>
<circle cx="432.5" cy="468.3" r="2.05" fill="none" stroke="#40ad3c" stroke-width="1.15"/>
<circle cx="421.4" cy="471.5" r="2.05" fill="none" stroke="#40ad3c" stroke-width="1.15"/>
<circle cx="425.2" cy="471.5" r="2.05" fill="none" stroke="#40ad3c" stroke-width="1.15"/>
<circle cx="428.7" cy="471.5" r="2.05" fill="none" stroke="#40ad3c" stroke-width="1.15"/>
<circle cx="431.9" cy="471.5" r="2.05" fill="none" stroke="#40ad3c" stroke-width="1.15"/>
<circle cx="421.7" cy="474.2" r="2.05" fill="none" stroke="#40ad3c" stroke-width="1.15"/>
<circle cx="425.5" cy="474.2" r="2.05" fill="none" stroke="#40ad3c" stroke-width="1.15"/>
<circle cx="429.8" cy="474.2" r="2.05" fill="none" stroke="#40ad3c" stroke-width="1.15"/>
<circle cx="450.5" cy="452.5" r="2.05" fill="none" stroke="#38b0e1" stroke-width="1.15"/>
<circle cx="455.3" cy="452.5" r="2.05" fill="none" stroke="#38b0e1" stroke-width="1.15"/>
<circle cx="452.9" cy="453.9" r="2.05" fill="none" stroke="#38b0e1" stroke-width="1.15"/>
<circle cx="448.6" cy="459.5" r="2.05" fill="none" stroke="#38b0e1" stroke-width="1.15"/>
<circle cx="453.5" cy="460.6" r="2.05" fill="none" stroke="#38b0e1" stroke-width="1.15"/>
<circle cx="457.8" cy="462.8" r="2.05" fill="none" stroke="#38b0e1" stroke-width="1.15"/>
<circle cx="445.9" cy="465.5" r="2.05" fill="none" stroke="#38b0e1" stroke-width="1.15"/>
<circle cx="449.2" cy="463.8" r="2.05" fill="none" stroke="#38b0e1" stroke-width="1.15"/>
<circle cx="450.8" cy="466.5" r="2.05" fill="none" stroke="#38b0e1" stroke-width="1.15"/>
<circle cx="455.1" cy="465.5" r="2.05" fill="none" stroke="#38b0e1" stroke-width="1.15"/>
<circle cx="460.2" cy="468.7" r="2.05" fill="none" stroke="#38b0e1" stroke-width="1.15"/>
<circle cx="448.3" cy="469.8" r="2.05" fill="none" stroke="#38b0e1" stroke-width="1.15"/>
<circle cx="453.5" cy="469.8" r="2.05" fill="none" stroke="#38b0e1" stroke-width="1.15"/>
<circle cx="457.2" cy="469.8" r="2.05" fill="none" stroke="#38b0e1" stroke-width="1.15"/>
<circle cx="448.6" cy="474.1" r="2.05" fill="none" stroke="#38b0e1" stroke-width="1.15"/>
<circle cx="451.8" cy="473.5" r="2.05" fill="none" stroke="#38b0e1" stroke-width="1.15"/>
<circle cx="455.3" cy="474.1" r="2.05" fill="none" stroke="#38b0e1" stroke-width="1.15"/>
<circle cx="458.3" cy="473.5" r="2.05" fill="none" stroke="#38b0e1" stroke-width="1.15"/>
<circle cx="452.9" cy="475.4" r="2.05" fill="none" stroke="#38b0e1" stroke-width="1.15"/>
<circle cx="479.2" cy="447" r="2.05" fill="none" stroke="#6b2d7f" stroke-width="1.15"/>
<circle cx="478.1" cy="453.7" r="2.05" fill="none" stroke="#6b2d7f" stroke-width="1.15"/>
<circle cx="481.6" cy="454" r="2.05" fill="none" stroke="#6b2d7f" stroke-width="1.15"/>
<circle cx="476" cy="458" r="2.05" fill="none" stroke="#6b2d7f" stroke-width="1.15"/>
<circle cx="479.7" cy="457.2" r="2.05" fill="none" stroke="#6b2d7f" stroke-width="1.15"/>
<circle cx="483.2" cy="457.8" r="2.05" fill="none" stroke="#6b2d7f" stroke-width="1.15"/>
<circle cx="472.7" cy="461.3" r="2.05" fill="none" stroke="#6b2d7f" stroke-width="1.15"/>
<circle cx="478.1" cy="462.1" r="2.05" fill="none" stroke="#6b2d7f" stroke-width="1.15"/>
<circle cx="481.6" cy="459.9" r="2.05" fill="none" stroke="#6b2d7f" stroke-width="1.15"/>
<circle cx="486.7" cy="459.9" r="2.05" fill="none" stroke="#6b2d7f" stroke-width="1.15"/>
<circle cx="475.7" cy="465.3" r="2.05" fill="none" stroke="#6b2d7f" stroke-width="1.15"/>
<circle cx="478.9" cy="466.4" r="2.05" fill="none" stroke="#6b2d7f" stroke-width="1.15"/>
<circle cx="472.7" cy="468" r="2.05" fill="none" stroke="#6b2d7f" stroke-width="1.15"/>
<circle cx="476.5" cy="469.1" r="2.05" fill="none" stroke="#6b2d7f" stroke-width="1.15"/>
<circle cx="486.5" cy="466.4" r="2.05" fill="none" stroke="#6b2d7f" stroke-width="1.15"/>
<circle cx="472.7" cy="472.3" r="2.05" fill="none" stroke="#6b2d7f" stroke-width="1.15"/>
<circle cx="478.1" cy="471.2" r="2.05" fill="none" stroke="#6b2d7f" stroke-width="1.15"/>
<circle cx="481.6" cy="470.7" r="2.05" fill="none" stroke="#6b2d7f" stroke-width="1.15"/>
<circle cx="486.5" cy="471.2" r="2.05" fill="none" stroke="#6b2d7f" stroke-width="1.15"/>
<circle cx="483.2" cy="475" r="2.05" fill="none" stroke="#6b2d7f" stroke-width="1.15"/>
<text x="103.7" y="490.8" font-size="9.7" text-anchor="end" font-weight="normal" fill="#1a1a1a" textLength="49.7" lengthAdjust="spacingAndGlyphs" stroke="#1a1a1a" stroke-width="0.2">HIT plasma</text>
<line x1="111.85000000000001" y1="487.90000000000003" x2="117.55" y2="487.90000000000003" stroke="#1a1a1a" stroke-width="0.95" />
<line x1="114.7" y1="485.05" x2="114.7" y2="490.75000000000006" stroke="#1a1a1a" stroke-width="0.95" />
<line x1="138.15" y1="487.90000000000003" x2="143.85" y2="487.90000000000003" stroke="#1a1a1a" stroke-width="0.95" />
<line x1="141.0" y1="485.05" x2="141.0" y2="490.75000000000006" stroke="#1a1a1a" stroke-width="0.95" />
<line x1="164.45000000000002" y1="487.90000000000003" x2="170.15" y2="487.90000000000003" stroke="#1a1a1a" stroke-width="0.95" />
<line x1="167.3" y1="485.05" x2="167.3" y2="490.75000000000006" stroke="#1a1a1a" stroke-width="0.95" />
<line x1="190.95000000000002" y1="487.90000000000003" x2="196.65" y2="487.90000000000003" stroke="#1a1a1a" stroke-width="0.95" />
<line x1="193.8" y1="485.05" x2="193.8" y2="490.75000000000006" stroke="#1a1a1a" stroke-width="0.95" />
<line x1="217.45000000000002" y1="487.90000000000003" x2="223.15" y2="487.90000000000003" stroke="#1a1a1a" stroke-width="0.95" />
<line x1="220.3" y1="485.05" x2="220.3" y2="490.75000000000006" stroke="#1a1a1a" stroke-width="0.95" />
<text x="103.7" y="506.5" font-size="9.7" text-anchor="end" font-weight="normal" fill="#1a1a1a" textLength="63.3" lengthAdjust="spacingAndGlyphs" stroke="#1a1a1a" stroke-width="0.2">1E12 2 μg/mL</text>
<line x1="112.2" y1="503.6" x2="117.2" y2="503.6" stroke="#1a1a1a" stroke-width="0.95" />
<line x1="138.15" y1="503.6" x2="143.85" y2="503.6" stroke="#1a1a1a" stroke-width="0.95" />
<line x1="141.0" y1="500.75" x2="141.0" y2="506.45000000000005" stroke="#1a1a1a" stroke-width="0.95" />
<line x1="164.8" y1="503.6" x2="169.8" y2="503.6" stroke="#1a1a1a" stroke-width="0.95" />
<line x1="191.3" y1="503.6" x2="196.3" y2="503.6" stroke="#1a1a1a" stroke-width="0.95" />
<line x1="217.45000000000002" y1="503.6" x2="223.15" y2="503.6" stroke="#1a1a1a" stroke-width="0.95" />
<line x1="220.3" y1="500.75" x2="220.3" y2="506.45000000000005" stroke="#1a1a1a" stroke-width="0.95" />
<text x="103.7" y="522.3" font-size="9.7" text-anchor="end" font-weight="normal" fill="#1a1a1a" textLength="87.9" lengthAdjust="spacingAndGlyphs" stroke="#1a1a1a" stroke-width="0.2">Control Ab 2 μg/mL</text>
<line x1="112.2" y1="519.4" x2="117.2" y2="519.4" stroke="#1a1a1a" stroke-width="0.95" />
<line x1="138.5" y1="519.4" x2="143.5" y2="519.4" stroke="#1a1a1a" stroke-width="0.95" />
<line x1="164.45000000000002" y1="519.4" x2="170.15" y2="519.4" stroke="#1a1a1a" stroke-width="0.95" />
<line x1="167.3" y1="516.55" x2="167.3" y2="522.25" stroke="#1a1a1a" stroke-width="0.95" />
<line x1="191.3" y1="519.4" x2="196.3" y2="519.4" stroke="#1a1a1a" stroke-width="0.95" />
<line x1="217.8" y1="519.4" x2="222.8" y2="519.4" stroke="#1a1a1a" stroke-width="0.95" />
<text x="103.7" y="538.2" font-size="9.7" text-anchor="end" font-weight="normal" fill="#1a1a1a" textLength="67.7" lengthAdjust="spacingAndGlyphs" stroke="#1a1a1a" stroke-width="0.2">UFH 0.1 IU/mL</text>
<line x1="112.2" y1="535.3000000000001" x2="117.2" y2="535.3000000000001" stroke="#1a1a1a" stroke-width="0.95" />
<line x1="138.5" y1="535.3000000000001" x2="143.5" y2="535.3000000000001" stroke="#1a1a1a" stroke-width="0.95" />
<line x1="164.8" y1="535.3000000000001" x2="169.8" y2="535.3000000000001" stroke="#1a1a1a" stroke-width="0.95" />
<line x1="190.95000000000002" y1="535.3000000000001" x2="196.65" y2="535.3000000000001" stroke="#1a1a1a" stroke-width="0.95" />
<line x1="193.8" y1="532.45" x2="193.8" y2="538.1500000000001" stroke="#1a1a1a" stroke-width="0.95" />
<line x1="217.45000000000002" y1="535.3000000000001" x2="223.15" y2="535.3000000000001" stroke="#1a1a1a" stroke-width="0.95" />
<line x1="220.3" y1="532.45" x2="220.3" y2="538.1500000000001" stroke="#1a1a1a" stroke-width="0.95" />
<text x="362.3" y="490.8" font-size="9.7" text-anchor="end" font-weight="normal" fill="#1a1a1a" textLength="103.1" lengthAdjust="spacingAndGlyphs" stroke="#1a1a1a" stroke-width="0.2">Non pathogenic plasma</text>
<line x1="371.04999999999995" y1="487.90000000000003" x2="376.75" y2="487.90000000000003" stroke="#1a1a1a" stroke-width="0.95" />
<line x1="373.9" y1="485.05" x2="373.9" y2="490.75000000000006" stroke="#1a1a1a" stroke-width="0.95" />
<line x1="397.34999999999997" y1="487.90000000000003" x2="403.05" y2="487.90000000000003" stroke="#1a1a1a" stroke-width="0.95" />
<line x1="400.2" y1="485.05" x2="400.2" y2="490.75000000000006" stroke="#1a1a1a" stroke-width="0.95" />
<line x1="423.65" y1="487.90000000000003" x2="429.35" y2="487.90000000000003" stroke="#1a1a1a" stroke-width="0.95" />
<line x1="426.5" y1="485.05" x2="426.5" y2="490.75000000000006" stroke="#1a1a1a" stroke-width="0.95" />
<line x1="450.15" y1="487.90000000000003" x2="455.85" y2="487.90000000000003" stroke="#1a1a1a" stroke-width="0.95" />
<line x1="453.0" y1="485.05" x2="453.0" y2="490.75000000000006" stroke="#1a1a1a" stroke-width="0.95" />
<line x1="476.65" y1="487.90000000000003" x2="482.35" y2="487.90000000000003" stroke="#1a1a1a" stroke-width="0.95" />
<line x1="479.5" y1="485.05" x2="479.5" y2="490.75000000000006" stroke="#1a1a1a" stroke-width="0.95" />
<text x="362.3" y="506.5" font-size="9.7" text-anchor="end" font-weight="normal" fill="#1a1a1a" textLength="63.5" lengthAdjust="spacingAndGlyphs" stroke="#1a1a1a" stroke-width="0.2">1E12 2 μg/mL</text>
<line x1="371.4" y1="503.6" x2="376.4" y2="503.6" stroke="#1a1a1a" stroke-width="0.95" />
<line x1="397.34999999999997" y1="503.6" x2="403.05" y2="503.6" stroke="#1a1a1a" stroke-width="0.95" />
<line x1="400.2" y1="500.75" x2="400.2" y2="506.45000000000005" stroke="#1a1a1a" stroke-width="0.95" />
<line x1="424.0" y1="503.6" x2="429.0" y2="503.6" stroke="#1a1a1a" stroke-width="0.95" />
<line x1="450.5" y1="503.6" x2="455.5" y2="503.6" stroke="#1a1a1a" stroke-width="0.95" />
<line x1="476.65" y1="503.6" x2="482.35" y2="503.6" stroke="#1a1a1a" stroke-width="0.95" />
<line x1="479.5" y1="500.75" x2="479.5" y2="506.45000000000005" stroke="#1a1a1a" stroke-width="0.95" />
<text x="362.3" y="522.3" font-size="9.7" text-anchor="end" font-weight="normal" fill="#1a1a1a" textLength="87.0" lengthAdjust="spacingAndGlyphs" stroke="#1a1a1a" stroke-width="0.2">Control Ab 2 μg/mL</text>
<line x1="371.4" y1="519.4" x2="376.4" y2="519.4" stroke="#1a1a1a" stroke-width="0.95" />
<line x1="397.7" y1="519.4" x2="402.7" y2="519.4" stroke="#1a1a1a" stroke-width="0.95" />
<line x1="423.65" y1="519.4" x2="429.35" y2="519.4" stroke="#1a1a1a" stroke-width="0.95" />
<line x1="426.5" y1="516.55" x2="426.5" y2="522.25" stroke="#1a1a1a" stroke-width="0.95" />
<line x1="450.5" y1="519.4" x2="455.5" y2="519.4" stroke="#1a1a1a" stroke-width="0.95" />
<line x1="477.0" y1="519.4" x2="482.0" y2="519.4" stroke="#1a1a1a" stroke-width="0.95" />
<text x="362.3" y="538.2" font-size="9.7" text-anchor="end" font-weight="normal" fill="#1a1a1a" textLength="67.6" lengthAdjust="spacingAndGlyphs" stroke="#1a1a1a" stroke-width="0.2">UFH 0.1 IU/mL</text>
<line x1="371.4" y1="535.3000000000001" x2="376.4" y2="535.3000000000001" stroke="#1a1a1a" stroke-width="0.95" />
<line x1="397.7" y1="535.3000000000001" x2="402.7" y2="535.3000000000001" stroke="#1a1a1a" stroke-width="0.95" />
<line x1="424.0" y1="535.3000000000001" x2="429.0" y2="535.3000000000001" stroke="#1a1a1a" stroke-width="0.95" />
<line x1="450.15" y1="535.3000000000001" x2="455.85" y2="535.3000000000001" stroke="#1a1a1a" stroke-width="0.95" />
<line x1="453.0" y1="532.45" x2="453.0" y2="538.1500000000001" stroke="#1a1a1a" stroke-width="0.95" />
<line x1="476.65" y1="535.3000000000001" x2="482.35" y2="535.3000000000001" stroke="#1a1a1a" stroke-width="0.95" />
<line x1="479.5" y1="532.45" x2="479.5" y2="538.1500000000001" stroke="#1a1a1a" stroke-width="0.95" />
<text x="113.7" y="573.8" font-size="14.2" text-anchor="start" font-weight="bold" fill="#000" stroke="#000" stroke-width="0.5">D</text>
<line x1="193.1" y1="581.3" x2="193.1" y2="729.4" stroke="#111" stroke-width="1.35" />
<line x1="189.4" y1="728.9" x2="406.5" y2="728.9" stroke="#1a1a1a" stroke-width="1.6" />
<line x1="189.4" y1="728.9" x2="193.1" y2="728.9" stroke="#1a1a1a" stroke-width="1.1" />
<text x="185.2" y="732.4" font-size="9.9" text-anchor="end" font-weight="normal" fill="#1a1a1a" textLength="5.95" lengthAdjust="spacingAndGlyphs">0</text>
<line x1="189.4" y1="705.025" x2="193.1" y2="705.025" stroke="#1a1a1a" stroke-width="1.1" />
<text x="185.2" y="708.525" font-size="9.9" text-anchor="end" font-weight="normal" fill="#1a1a1a" textLength="11.9" lengthAdjust="spacingAndGlyphs">50</text>
<line x1="189.4" y1="681.15" x2="193.1" y2="681.15" stroke="#1a1a1a" stroke-width="1.1" />
<text x="185.2" y="684.65" font-size="9.9" text-anchor="end" font-weight="normal" fill="#1a1a1a" textLength="17.85" lengthAdjust="spacingAndGlyphs">100</text>
<line x1="189.4" y1="657.275" x2="193.1" y2="657.275" stroke="#1a1a1a" stroke-width="1.1" />
<text x="185.2" y="660.775" font-size="9.9" text-anchor="end" font-weight="normal" fill="#1a1a1a" textLength="17.85" lengthAdjust="spacingAndGlyphs">150</text>
<line x1="189.4" y1="633.4" x2="193.1" y2="633.4" stroke="#1a1a1a" stroke-width="1.1" />
<text x="185.2" y="636.9" font-size="9.9" text-anchor="end" font-weight="normal" fill="#1a1a1a" textLength="17.85" lengthAdjust="spacingAndGlyphs">200</text>
<line x1="189.4" y1="609.525" x2="193.1" y2="609.525" stroke="#1a1a1a" stroke-width="1.1" />
<text x="185.2" y="613.025" font-size="9.9" text-anchor="end" font-weight="normal" fill="#1a1a1a" textLength="17.85" lengthAdjust="spacingAndGlyphs">250</text>
<line x1="189.4" y1="585.65" x2="193.1" y2="585.65" stroke="#1a1a1a" stroke-width="1.1" />
<text x="185.2" y="589.15" font-size="9.9" text-anchor="end" font-weight="normal" fill="#1a1a1a" textLength="17.85" lengthAdjust="spacingAndGlyphs">300</text>
<line x1="194.5" y1="693.4" x2="395" y2="693.4" stroke="#333" stroke-width="1" stroke-dasharray="1 1.7"/>
<rect x="202.6" y="720.0" width="18.8" height="8.899999999999977" fill="#cfcfcf"/>
<line x1="212" y1="728.9" x2="212" y2="733.2" stroke="#1a1a1a" stroke-width="1.1" />
<rect x="231.2" y="721.2" width="18.8" height="7.699999999999932" fill="#1d4f7c"/>
<line x1="240.6" y1="728.9" x2="240.6" y2="733.2" stroke="#1a1a1a" stroke-width="1.1" />
<rect x="260.1" y="720.6" width="18.8" height="8.299999999999955" fill="#cf0e2e"/>
<line x1="269.5" y1="728.9" x2="269.5" y2="733.2" stroke="#1a1a1a" stroke-width="1.1" />
<rect x="289.0" y="691.3" width="18.8" height="37.60000000000002" fill="#f7941d"/>
<line x1="298.4" y1="728.9" x2="298.4" y2="733.2" stroke="#1a1a1a" stroke-width="1.1" />
<rect x="317.6" y="720.6" width="18.8" height="8.299999999999955" fill="#f8b617"/>
<line x1="327" y1="728.9" x2="327" y2="733.2" stroke="#1a1a1a" stroke-width="1.1" />
<rect x="346.1" y="719.7" width="18.8" height="9.199999999999932" fill="#3ba639"/>
<line x1="355.5" y1="728.9" x2="355.5" y2="733.2" stroke="#1a1a1a" stroke-width="1.1" />
<rect x="375.0" y="637.4" width="18.8" height="91.5" fill="#2ba4dd"/>
<line x1="384.4" y1="728.9" x2="384.4" y2="733.2" stroke="#1a1a1a" stroke-width="1.1" />
<line x1="194.5" y1="693.4" x2="395" y2="693.4" stroke="#333" stroke-width="1" stroke-dasharray="1 1.7"/>
<line x1="189.4" y1="729.0" x2="406.5" y2="729.0" stroke="#111" stroke-width="1.7" />
<circle cx="208.2" cy="703.7" r="1.45" fill="#000"/>
<circle cx="209.6" cy="705.3" r="1.45" fill="#000"/>
<circle cx="207.7" cy="707.7" r="1.45" fill="#000"/>
<circle cx="212.3" cy="707" r="1.45" fill="#000"/>
<circle cx="214.4" cy="705.1" r="1.45" fill="#000"/>
<circle cx="210.1" cy="712.1" r="1.45" fill="#000"/>
<circle cx="207.7" cy="714.5" r="1.45" fill="#000"/>
<circle cx="214.4" cy="714.5" r="1.45" fill="#000"/>
<circle cx="210.1" cy="718.1" r="1.45" fill="#000"/>
<circle cx="212.3" cy="717.1" r="1.45" fill="#000"/>
<circle cx="214.4" cy="721.7" r="1.45" fill="#000"/>
<circle cx="211.8" cy="723.8" r="1.45" fill="#000"/>
<circle cx="213" cy="722.9" r="1.45" fill="#000"/>
<rect x="239.30" y="700.80" width="2.8" height="2.8" rx="0.5" fill="#000"/>
<rect x="239.30" y="706.30" width="2.8" height="2.8" rx="0.5" fill="#000"/>
<rect x="233.80" y="711.60" width="2.8" height="2.8" rx="0.5" fill="#000"/>
<rect x="236.20" y="713.30" width="2.8" height="2.8" rx="0.5" fill="#000"/>
<rect x="238.10" y="712.60" width="2.8" height="2.8" rx="0.5" fill="#000"/>
<rect x="240.50" y="712.10" width="2.8" height="2.8" rx="0.5" fill="#000"/>
<rect x="242.90" y="711.10" width="2.8" height="2.8" rx="0.5" fill="#000"/>
<rect x="245.10" y="710.70" width="2.8" height="2.8" rx="0.5" fill="#000"/>
<rect x="236.20" y="714.80" width="2.8" height="2.8" rx="0.5" fill="#000"/>
<rect x="242.20" y="716.70" width="2.8" height="2.8" rx="0.5" fill="#000"/>
<rect x="243.90" y="717.20" width="2.8" height="2.8" rx="0.5" fill="#000"/>
<rect x="236.20" y="717.60" width="2.8" height="2.8" rx="0.5" fill="#000"/>
<rect x="232.10" y="721.10" width="2.8" height="2.8" rx="0.5" fill="#000"/>
<rect x="235.10" y="720.60" width="2.8" height="2.8" rx="0.5" fill="#000"/>
<rect x="238.10" y="721.60" width="2.8" height="2.8" rx="0.5" fill="#000"/>
<rect x="241.60" y="721.10" width="2.8" height="2.8" rx="0.5" fill="#000"/>
<rect x="245.10" y="721.10" width="2.8" height="2.8" rx="0.5" fill="#000"/>
<rect x="232.10" y="724.10" width="2.8" height="2.8" rx="0.5" fill="#000"/>
<rect x="235.10" y="724.60" width="2.8" height="2.8" rx="0.5" fill="#000"/>
<rect x="238.60" y="724.10" width="2.8" height="2.8" rx="0.5" fill="#000"/>
<rect x="242.10" y="724.60" width="2.8" height="2.8" rx="0.5" fill="#000"/>
<rect x="245.60" y="724.10" width="2.8" height="2.8" rx="0.5" fill="#000"/>
<rect x="236.60" y="726.10" width="2.8" height="2.8" rx="0.5" fill="#000"/>
<rect x="243.60" y="726.10" width="2.8" height="2.8" rx="0.5" fill="#000"/>
<polygon points="269.6,699.0 271.40000000000003,695.76 267.8,695.76" fill="#000"/>
<polygon points="269.6,703.8 271.40000000000003,700.56 267.8,700.56" fill="#000"/>
<polygon points="266.7,708.6999999999999 268.5,705.4599999999999 264.9,705.4599999999999" fill="#000"/>
<polygon points="268,710.0 269.8,706.76 266.2,706.76" fill="#000"/>
<polygon points="270.3,711.0 272.1,707.76 268.5,707.76" fill="#000"/>
<polygon points="272.4,712.3 274.2,709.06 270.59999999999997,709.06" fill="#000"/>
<polygon points="266.7,713.3 268.5,710.06 264.9,710.06" fill="#000"/>
<polygon points="269.6,718.6999999999999 271.40000000000003,715.4599999999999 267.8,715.4599999999999" fill="#000"/>
<polygon points="264,723.3 265.8,720.06 262.2,720.06" fill="#000"/>
<polygon points="267,723.8 268.8,720.56 265.2,720.56" fill="#000"/>
<polygon points="270,722.8 271.8,719.56 268.2,719.56" fill="#000"/>
<polygon points="273,724.3 274.8,721.06 271.2,721.06" fill="#000"/>
<polygon points="276,723.8 277.8,720.56 274.2,720.56" fill="#000"/>
<polygon points="263,726.8 264.8,723.56 261.2,723.56" fill="#000"/>
<polygon points="266.5,727.3 268.3,724.06 264.7,724.06" fill="#000"/>
<polygon points="270,726.8 271.8,723.56 268.2,723.56" fill="#000"/>
<polygon points="274,727.3 275.8,724.06 272.2,724.06" fill="#000"/>
<polygon points="268,728.8 269.8,725.56 266.2,725.56" fill="#000"/>
<polygon points="272,728.8 273.8,725.56 270.2,725.56" fill="#000"/>
<polygon points="296.4,651.1 298.2,652.9 296.4,654.6999999999999 294.59999999999997,652.9" fill="#000"/>
<polygon points="300.1,650.1 301.90000000000003,651.9 300.1,653.6999999999999 298.3,651.9" fill="#000"/>
<polygon points="298.2,657.1 300.0,658.9 298.2,660.6999999999999 296.4,658.9" fill="#000"/>
<polygon points="298.2,662.5 300.0,664.3 298.2,666.0999999999999 296.4,664.3" fill="#000"/>
<polygon points="302.2,671.3000000000001 304.0,673.1 302.2,674.9 300.4,673.1" fill="#000"/>
<polygon points="298.2,673.3000000000001 300.0,675.1 298.2,676.9 296.4,675.1" fill="#000"/>
<polygon points="298.2,678.0 300.0,679.8 298.2,681.5999999999999 296.4,679.8" fill="#000"/>
<polygon points="306.3,682.7 308.1,684.5 306.3,686.3 304.5,684.5" fill="#000"/>
<polygon points="290.4,687.2 292.2,689 290.4,690.8 288.59999999999997,689" fill="#000"/>
<polygon points="294.1,685.8000000000001 295.90000000000003,687.6 294.1,689.4 292.3,687.6" fill="#000"/>
<polygon points="298.2,687.4000000000001 300.0,689.2 298.2,691.0 296.4,689.2" fill="#000"/>
<polygon points="302.2,686.7 304.0,688.5 302.2,690.3 300.4,688.5" fill="#000"/>
<polygon points="306.3,688.8000000000001 308.1,690.6 306.3,692.4 304.5,690.6" fill="#000"/>
<polygon points="302.2,694.2 304.0,696 302.2,697.8 300.4,696" fill="#000"/>
<polygon points="298.2,696.8000000000001 300.0,698.6 298.2,700.4 296.4,698.6" fill="#000"/>
<polygon points="298.2,703.6 300.0,705.4 298.2,707.1999999999999 296.4,705.4" fill="#000"/>
<polygon points="298.2,709.6 300.0,711.4 298.2,713.1999999999999 296.4,711.4" fill="#000"/>
<polygon points="302.2,710.3000000000001 304.0,712.1 302.2,713.9 300.4,712.1" fill="#000"/>
<polygon points="294.1,712.3000000000001 295.90000000000003,714.1 294.1,715.9 292.3,714.1" fill="#000"/>
<polygon points="302.2,714.3000000000001 304.0,716.1 302.2,717.9 300.4,716.1" fill="#000"/>
<polygon points="298.2,717.0 300.0,718.8 298.2,720.5999999999999 296.4,718.8" fill="#000"/>
<polygon points="298.2,723.5 300.0,725.3 298.2,727.0999999999999 296.4,725.3" fill="#000"/>
<circle cx="324.4" cy="703.9" r="1.75" fill="none" stroke="#111" stroke-width="0.9"/>
<circle cx="329.7" cy="704.9" r="1.75" fill="none" stroke="#111" stroke-width="0.9"/>
<circle cx="323.9" cy="709.9" r="1.75" fill="none" stroke="#111" stroke-width="0.9"/>
<circle cx="329.4" cy="712.1" r="1.75" fill="none" stroke="#111" stroke-width="0.9"/>
<circle cx="324.4" cy="720.2" r="1.75" fill="none" stroke="#111" stroke-width="0.9"/>
<circle cx="322.2" cy="722.9" r="1.75" fill="none" stroke="#111" stroke-width="0.9"/>
<circle cx="329.4" cy="724.1" r="1.75" fill="none" stroke="#111" stroke-width="0.9"/>
<circle cx="322.2" cy="726.3" r="1.75" fill="none" stroke="#111" stroke-width="0.9"/>
<circle cx="326.5" cy="721.9" r="1.75" fill="none" stroke="#111" stroke-width="0.9"/>
<rect x="353.95" y="699.75" width="3.1" height="3.1" fill="none" stroke="#111" stroke-width="0.9"/>
<rect x="349.35" y="704.05" width="3.1" height="3.1" fill="none" stroke="#111" stroke-width="0.9"/>
<rect x="352.55" y="703.55" width="3.1" height="3.1" fill="none" stroke="#111" stroke-width="0.9"/>
<rect x="352.55" y="707.85" width="3.1" height="3.1" fill="none" stroke="#111" stroke-width="0.9"/>
<rect x="358.75" y="706.65" width="3.1" height="3.1" fill="none" stroke="#111" stroke-width="0.9"/>
<rect x="354.15" y="714.15" width="3.1" height="3.1" fill="none" stroke="#111" stroke-width="0.9"/>
<rect x="352.55" y="717.05" width="3.1" height="3.1" fill="none" stroke="#111" stroke-width="0.9"/>
<rect x="355.35" y="720.35" width="3.1" height="3.1" fill="none" stroke="#111" stroke-width="0.9"/>
<rect x="352.55" y="722.25" width="3.1" height="3.1" fill="none" stroke="#111" stroke-width="0.9"/>
<rect x="349.45" y="724.45" width="3.1" height="3.1" fill="none" stroke="#111" stroke-width="0.9"/>
<rect x="355.45" y="724.45" width="3.1" height="3.1" fill="none" stroke="#111" stroke-width="0.9"/>
<polygon points="384.4,592.0 386.4,595.6 382.4,595.6" fill="#000"/>
<polygon points="384.4,598.1 386.4,601.7 382.4,601.7" fill="#000"/>
<polygon points="384.4,610.7 386.4,614.3000000000001 382.4,614.3000000000001" fill="#000"/>
<polygon points="380.5,614.0 382.5,617.6 378.5,617.6" fill="#000"/>
<polygon points="388.2,614.0 390.2,617.6 386.2,617.6" fill="#000"/>
<polygon points="384.4,616.6 386.4,620.2 382.4,620.2" fill="#000"/>
<polygon points="382.4,625.3 384.4,628.9 380.4,628.9" fill="#000"/>
<polygon points="386.3,625.3 388.3,628.9 384.3,628.9" fill="#000"/>
<polygon points="376.6,634.1 378.6,637.7 374.6,637.7" fill="#000"/>
<polygon points="380.5,632.5 382.5,636.1 378.5,636.1" fill="#000"/>
<polygon points="392.1,632.2 394.1,635.8000000000001 390.1,635.8000000000001" fill="#000"/>
<polygon points="384.4,635.5 386.4,639.1 382.4,639.1" fill="#000"/>
<polygon points="388.2,634.9 390.2,638.5 386.2,638.5" fill="#000"/>
<polygon points="380.5,640.7 382.5,644.3000000000001 378.5,644.3000000000001" fill="#000"/>
<polygon points="384.4,642.7 386.4,646.3000000000001 382.4,646.3000000000001" fill="#000"/>
<polygon points="388.2,642.3 390.2,645.9 386.2,645.9" fill="#000"/>
<polygon points="382.4,646.6 384.4,650.2 380.4,650.2" fill="#000"/>
<polygon points="386.3,647.7 388.3,651.3000000000001 384.3,651.3000000000001" fill="#000"/>
<polygon points="384.4,652.0 386.4,655.6 382.4,655.6" fill="#000"/>
<polygon points="384.4,661.4 386.4,665.0 382.4,665.0" fill="#000"/>
<polygon points="388.2,658.8 390.2,662.4 386.2,662.4" fill="#000"/>
<polygon points="384.4,671.5 386.4,675.1 382.4,675.1" fill="#000"/>
<polygon points="384.4,679.7 386.4,683.3000000000001 382.4,683.3000000000001" fill="#000"/>
<polyline points="240.5,630.2 240.5,627.2 353,627.2 353,630.2" fill="none" stroke="#1a1a1a" stroke-width="1.25"/>
<line x1="296.8" y1="627.2" x2="296.8" y2="630.8" stroke="#1a1a1a" stroke-width="1.6" />
<polyline points="271.6,644.0 271.6,641.0 297.4,641.0 297.4,644.0" fill="none" stroke="#1a1a1a" stroke-width="1.25"/>
<polyline points="299.2,644.0 299.2,641.0 325,641.0 325,644.0" fill="none" stroke="#1a1a1a" stroke-width="1.25"/>
<path d="M266.70,620.05L266.70,622.95M265.44,620.77L267.96,622.23M267.96,620.77L265.44,622.23" stroke="#111" stroke-width="0.85" fill="none"/>
<path d="M270.30,620.05L270.30,622.95M269.04,620.77L271.56,622.23M271.56,620.77L269.04,622.23" stroke="#111" stroke-width="0.85" fill="none"/>
<path d="M323.70,620.05L323.70,622.95M322.44,620.77L324.96,622.23M324.96,620.77L322.44,622.23" stroke="#111" stroke-width="0.85" fill="none"/>
<path d="M327.30,620.05L327.30,622.95M326.04,620.77L328.56,622.23M328.56,620.77L326.04,622.23" stroke="#111" stroke-width="0.85" fill="none"/>
<path d="M282.40,634.35L282.40,637.25M281.14,635.07L283.66,636.52M283.66,635.07L281.14,636.52" stroke="#111" stroke-width="0.85" fill="none"/>
<path d="M286.00,634.35L286.00,637.25M284.74,635.07L287.26,636.52M287.26,635.07L284.74,636.52" stroke="#111" stroke-width="0.85" fill="none"/>
<path d="M310.40,634.35L310.40,637.25M309.14,635.07L311.66,636.52M311.66,635.07L309.14,636.52" stroke="#111" stroke-width="0.85" fill="none"/>
<path d="M314.00,634.35L314.00,637.25M312.74,635.07L315.26,636.52M315.26,635.07L312.74,636.52" stroke="#111" stroke-width="0.85" fill="none"/>
<text transform="translate(160.2,656.6) rotate(-90)" x="0" y="0" font-size="11.5" text-anchor="middle" fill="#1a1a1a" stroke="#1a1a1a" stroke-width="0.3" textLength="98.2" lengthAdjust="spacingAndGlyphs">Platelet agregation (AUC)</text>
<text x="199.9" y="745.6" font-size="9.7" text-anchor="end" font-weight="normal" fill="#1a1a1a" textLength="20.6" lengthAdjust="spacingAndGlyphs" stroke="#1a1a1a" stroke-width="0.2">PBS</text>
<line x1="208.75" y1="742.7" x2="214.45" y2="742.7" stroke="#1a1a1a" stroke-width="0.95" />
<line x1="211.6" y1="739.85" x2="211.6" y2="745.5500000000001" stroke="#1a1a1a" stroke-width="0.95" />
<line x1="238.6" y1="742.7" x2="243.6" y2="742.7" stroke="#1a1a1a" stroke-width="0.95" />
<line x1="266.9" y1="742.7" x2="271.9" y2="742.7" stroke="#1a1a1a" stroke-width="0.95" />
<line x1="295.8" y1="742.7" x2="300.8" y2="742.7" stroke="#1a1a1a" stroke-width="0.95" />
<line x1="324.5" y1="742.7" x2="329.5" y2="742.7" stroke="#1a1a1a" stroke-width="0.95" />
<line x1="352.9" y1="742.7" x2="357.9" y2="742.7" stroke="#1a1a1a" stroke-width="0.95" />
<line x1="382.5" y1="742.7" x2="387.5" y2="742.7" stroke="#1a1a1a" stroke-width="0.95" />
<text x="199.9" y="761.7" font-size="9.7" text-anchor="end" font-weight="normal" fill="#1a1a1a" textLength="65.2" lengthAdjust="spacingAndGlyphs" stroke="#1a1a1a" stroke-width="0.2">5B9 20 μg/mL</text>
<line x1="209.1" y1="758.8000000000001" x2="214.1" y2="758.8000000000001" stroke="#1a1a1a" stroke-width="0.95" />
<line x1="238.25" y1="758.8000000000001" x2="243.95" y2="758.8000000000001" stroke="#1a1a1a" stroke-width="0.95" />
<line x1="241.1" y1="755.95" x2="241.1" y2="761.6500000000001" stroke="#1a1a1a" stroke-width="0.95" />
<line x1="266.9" y1="758.8000000000001" x2="271.9" y2="758.8000000000001" stroke="#1a1a1a" stroke-width="0.95" />
<line x1="295.45" y1="758.8000000000001" x2="301.15000000000003" y2="758.8000000000001" stroke="#1a1a1a" stroke-width="0.95" />
<line x1="298.3" y1="755.95" x2="298.3" y2="761.6500000000001" stroke="#1a1a1a" stroke-width="0.95" />
<line x1="324.15" y1="758.8000000000001" x2="329.85" y2="758.8000000000001" stroke="#1a1a1a" stroke-width="0.95" />
<line x1="327" y1="755.95" x2="327" y2="761.6500000000001" stroke="#1a1a1a" stroke-width="0.95" />
<line x1="352.9" y1="758.8000000000001" x2="357.9" y2="758.8000000000001" stroke="#1a1a1a" stroke-width="0.95" />
<line x1="382.15" y1="758.8000000000001" x2="387.85" y2="758.8000000000001" stroke="#1a1a1a" stroke-width="0.95" />
<line x1="385" y1="755.95" x2="385" y2="761.6500000000001" stroke="#1a1a1a" stroke-width="0.95" />
<text x="199.9" y="777.3" font-size="9.7" text-anchor="end" font-weight="normal" fill="#1a1a1a" textLength="64.6" lengthAdjust="spacingAndGlyphs" stroke="#1a1a1a" stroke-width="0.2">1E12 2 μg/mL</text>
<line x1="209.1" y1="774.4" x2="214.1" y2="774.4" stroke="#1a1a1a" stroke-width="0.95" />
<line x1="238.6" y1="774.4" x2="243.6" y2="774.4" stroke="#1a1a1a" stroke-width="0.95" />
<line x1="266.54999999999995" y1="774.4" x2="272.25" y2="774.4" stroke="#1a1a1a" stroke-width="0.95" />
<line x1="269.4" y1="771.55" x2="269.4" y2="777.25" stroke="#1a1a1a" stroke-width="0.95" />
<line x1="295.45" y1="774.4" x2="301.15000000000003" y2="774.4" stroke="#1a1a1a" stroke-width="0.95" />
<line x1="298.3" y1="771.55" x2="298.3" y2="777.25" stroke="#1a1a1a" stroke-width="0.95" />
<line x1="324.5" y1="774.4" x2="329.5" y2="774.4" stroke="#1a1a1a" stroke-width="0.95" />
<line x1="352.54999999999995" y1="774.4" x2="358.25" y2="774.4" stroke="#1a1a1a" stroke-width="0.95" />
<line x1="355.4" y1="771.55" x2="355.4" y2="777.25" stroke="#1a1a1a" stroke-width="0.95" />
<line x1="382.5" y1="774.4" x2="387.5" y2="774.4" stroke="#1a1a1a" stroke-width="0.95" />
<text x="199.9" y="792.9" font-size="9.7" text-anchor="end" font-weight="normal" fill="#1a1a1a" textLength="85.6" lengthAdjust="spacingAndGlyphs" stroke="#1a1a1a" stroke-width="0.2">Control Ab (μg/mL)</text>
<line x1="209.1" y1="790.0" x2="214.1" y2="790.0" stroke="#1a1a1a" stroke-width="0.95" />
<line x1="238.6" y1="790.0" x2="243.6" y2="790.0" stroke="#1a1a1a" stroke-width="0.95" />
<line x1="266.9" y1="790.0" x2="271.9" y2="790.0" stroke="#1a1a1a" stroke-width="0.95" />
<line x1="295.8" y1="790.0" x2="300.8" y2="790.0" stroke="#1a1a1a" stroke-width="0.95" />
<text x="327" y="792.9" font-size="9.7" text-anchor="middle" font-weight="normal" fill="#1a1a1a" textLength="5.66" lengthAdjust="spacingAndGlyphs" stroke="#1a1a1a" stroke-width="0.2">2</text>
<text x="355.4" y="792.9" font-size="9.7" text-anchor="middle" font-weight="normal" fill="#1a1a1a" textLength="11.33" lengthAdjust="spacingAndGlyphs" stroke="#1a1a1a" stroke-width="0.2">20</text>
<line x1="382.5" y1="790.0" x2="387.5" y2="790.0" stroke="#1a1a1a" stroke-width="0.95" />
<text x="199.9" y="808.5" font-size="9.7" text-anchor="end" font-weight="normal" fill="#1a1a1a" textLength="69.2" lengthAdjust="spacingAndGlyphs" stroke="#1a1a1a" stroke-width="0.2">UFH 0.1 μg/mL</text>
<line x1="209.1" y1="805.6" x2="214.1" y2="805.6" stroke="#1a1a1a" stroke-width="0.95" />
<line x1="238.6" y1="805.6" x2="243.6" y2="805.6" stroke="#1a1a1a" stroke-width="0.95" />
<line x1="266.9" y1="805.6" x2="271.9" y2="805.6" stroke="#1a1a1a" stroke-width="0.95" />
<line x1="295.8" y1="805.6" x2="300.8" y2="805.6" stroke="#1a1a1a" stroke-width="0.95" />
<line x1="324.5" y1="805.6" x2="329.5" y2="805.6" stroke="#1a1a1a" stroke-width="0.95" />
<line x1="352.9" y1="805.6" x2="357.9" y2="805.6" stroke="#1a1a1a" stroke-width="0.95" />
<line x1="382.15" y1="805.6" x2="387.85" y2="805.6" stroke="#1a1a1a" stroke-width="0.95" />
<line x1="385" y1="802.75" x2="385" y2="808.45" stroke="#1a1a1a" stroke-width="0.95" />
<rect x="0.5" y="0.5" width="519" height="819" fill="none" stroke="#333" stroke-width="1.2"/>
</svg>
</body></html>
